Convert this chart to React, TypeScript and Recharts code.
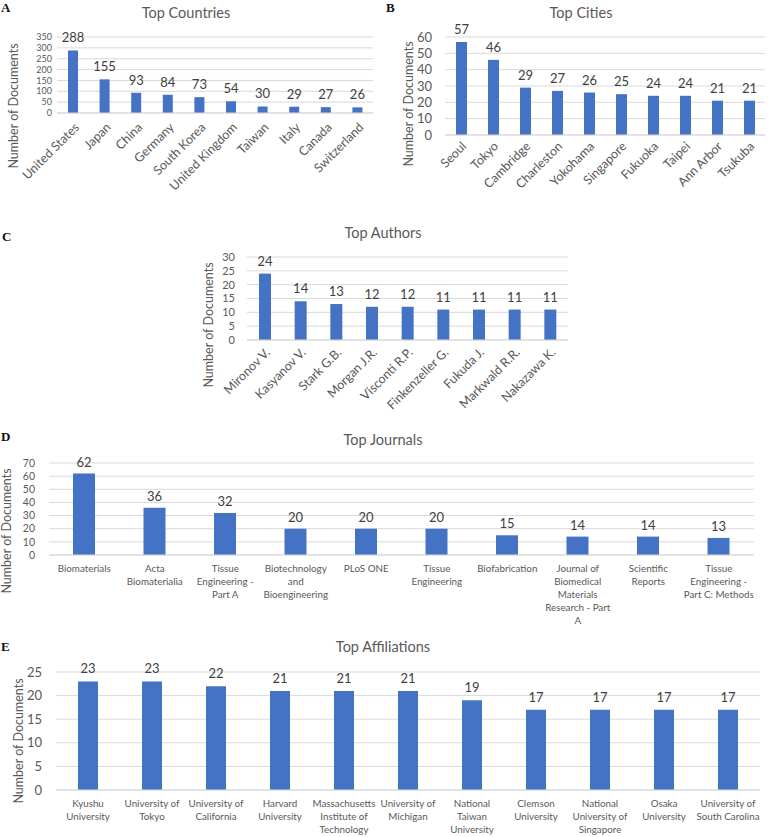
import React from "react";
import { Bar, BarChart, CartesianGrid, LabelList, XAxis, YAxis } from "recharts";

const countries = ["United States", "Japan", "China", "Germany", "South Korea", "United Kingdom", "Taiwan", "Italy", "Canada", "Switzerland"];
const countryDocs = [288, 155, 93, 84, 73, 54, 30, 29, 27, 26];
const countryTicks = [0, 50, 100, 150, 200, 250, 300, 350];

const cities = ["Seoul", "Tokyo", "Cambridge", "Charleston", "Yokohama", "Singapore", "Fukuoka", "Taipei", "Ann Arbor", "Tsukuba"];
const cityDocs = [57, 46, 29, 27, 26, 25, 24, 24, 21, 21];
const cityTicks = [0, 10, 20, 30, 40, 50, 60];

const authors = ["Mironov V.", "Kasyanov V.", "Stark G.B.", "Morgan J.R.", "Visconti R.P.", "Finkenzeller G.", "Fukuda J.", "Markwald R.R.", "Nakazawa K."];
const authorDocs = [24, 14, 13, 12, 12, 11, 11, 11, 11];
const authorTicks = [0, 5, 10, 15, 20, 25, 30];

const journals = [
  "Biomaterials",
  "Acta Biomaterialia",
  "Tissue Engineering - Part A",
  "Biotechnology and Bioengineering",
  "PLoS ONE",
  "Tissue Engineering",
  "Biofabrication",
  "Journal of Biomedical Materials Research - Part A",
  "Scientific Reports",
  "Tissue Engineering - Part C: Methods",
];
const journalDocs = [62, 36, 32, 20, 20, 20, 15, 14, 14, 13];
const journalTicks = [0, 10, 20, 30, 40, 50, 60, 70];
const journalLabels = [
  ["Biomaterials"],
  ["Acta", "Biomaterialia"],
  ["Tissue", "Engineering -", "Part A"],
  ["Biotechnology", "and", "Bioengineering"],
  ["PLoS ONE"],
  ["Tissue", "Engineering"],
  ["Biofabrication"],
  ["Journal of", "Biomedical", "Materials", "Research - Part", "A"],
  ["Scientific", "Reports"],
  ["Tissue", "Engineering -", "Part C: Methods"],
];

const affiliations = [
  "Kyushu University",
  "University of Tokyo",
  "University of California",
  "Harvard University",
  "Massachusetts Institute of Technology",
  "University of Michigan",
  "National Taiwan University",
  "Clemson University",
  "National University of Singapore",
  "Osaka University",
  "University of South Carolina",
];
const affiliationDocs = [23, 23, 22, 21, 21, 21, 19, 17, 17, 17, 17];
const affiliationTicks = [0, 5, 10, 15, 20, 25];
const affiliationLabels = [
  ["Kyushu", "University"],
  ["University of", "Tokyo"],
  ["University of", "California"],
  ["Harvard", "University"],
  ["Massachusetts", "Institute of", "Technology"],
  ["University of", "Michigan"],
  ["National", "Taiwan", "University"],
  ["Clemson", "University"],
  ["National", "University of", "Singapore"],
  ["Osaka", "University"],
  ["University of", "South Carolina"],
];

const BLUE = "#4472C4";
const GRID = "#d9d9d9";
const TICK = "#595959";
const VALUE = "#404040";

function SlantTick(props: any) {
  const { x, y, payload, offX, offY, size } = props;
  return (
    <g transform={`translate(${x + offX},${y + offY})`}>
      <text textAnchor="end" transform="rotate(-45)" dy="0.35em" fill={TICK} fontSize={size}>
        {payload.value}
      </text>
    </g>
  );
}

function WrapTick(props: any) {
  const { x, y, index, payload, lines, first, lineHeight, size } = props;
  const rows: string[] = lines[index] ?? [payload.value];
  return (
    <text x={x} y={y + first} textAnchor="middle" fill={TICK} fontSize={size}>
      {rows.map((r, i) => (
        <tspan key={i} x={x} dy={i === 0 ? 0 : lineHeight}>
          {r}
        </tspan>
      ))}
    </text>
  );
}

type PanelProps = {
  names: string[];
  values: number[];
  ticks: number[];
  left: number;
  top: number;
  width: number;
  height: number;
  margin: { top: number; right: number; bottom: number; left: number };
  xHeight: number;
  barSize: number;
  tickGap: number;
  tickSize: number;
  valueSize: number;
  valueOffset: number;
  titleAt: [number, number];
  tick: React.ReactElement;
};

function Panel(p: PanelProps) {
  const data = p.names.map((name, i) => ({ name, docs: p.values[i] }));
  const [tx, ty] = p.titleAt;
  return (
    <div style={{ position: "absolute", left: p.left, top: p.top }}>
      <BarChart width={p.width} height={p.height} data={data} margin={p.margin}>
        <CartesianGrid stroke={GRID} vertical={false} />
        <XAxis
          dataKey="name"
          interval={0}
          height={p.xHeight}
          tickLine={false}
          tickSize={0}
          tickMargin={0}
          axisLine={{ stroke: GRID }}
          tick={p.tick}
        />
        <YAxis
          width={40}
          domain={[p.ticks[0], p.ticks[p.ticks.length - 1]]}
          ticks={p.ticks}
          interval={0}
          axisLine={false}
          tickLine={false}
          tickSize={0}
          tickMargin={p.tickGap}
          tick={{ fill: TICK, fontSize: p.tickSize }}
          label={{
            content: () => (
              <text
                x={tx}
                y={ty}
                transform={`rotate(-90 ${tx} ${ty})`}
                textAnchor="middle"
                dominantBaseline="central"
                fill={TICK}
                fontSize={12.5}
              >
                Number of Documents
              </text>
            ),
          }}
        />
        <Bar dataKey="docs" fill={BLUE} barSize={p.barSize} isAnimationActive={false}>
          <LabelList dataKey="docs" position="top" offset={p.valueOffset} fill={VALUE} fontSize={p.valueSize} />
        </Bar>
      </BarChart>
    </div>
  );
}

function Title({ text, cx, cy }: { text: string; cx: number; cy: number }) {
  return (
    <div
      style={{
        position: "absolute",
        left: cx - 150,
        top: cy - 10,
        width: 300,
        lineHeight: "20px",
        textAlign: "center",
        fontSize: 14.5,
        color: TICK,
      }}
    >
      {text}
    </div>
  );
}

function Letter({ text, x, y }: { text: string; x: number; y: number }) {
  return (
    <div
      style={{
        position: "absolute",
        left: x,
        top: y - 8,
        lineHeight: "16px",
        fontFamily: "'Liberation Serif', serif",
        fontWeight: 700,
        fontSize: 13,
        color: "#111",
      }}
    >
      {text}
    </div>
  );
}

export default function App() {
  return (
    <div
      style={{
        position: "absolute",
        left: 0,
        top: 0,
        width: 770,
        height: 837,
        overflow: "hidden",
        background: "#fff",
        fontFamily: "Lato, sans-serif",
      }}
    >
      <Panel
        names={countries}
        values={countryDocs}
        ticks={countryTicks}
        left={0}
        top={0}
        width={385}
        height={200}
        margin={{ top: 37, right: 12, left: 17, bottom: 7 }}
        xHeight={80}
        barSize={10}
        tickGap={5}
        tickSize={9}
        valueSize={13}
        valueOffset={8}
        titleAt={[13, 106]}
        tick={<SlantTick offX={4} offY={12} size={12.5} />}
      />
      <Panel
        names={cities}
        values={cityDocs}
        ticks={cityTicks}
        left={385}
        top={0}
        width={385}
        height={200}
        margin={{ top: 37, right: 5, left: 20, bottom: 5 }}
        xHeight={60}
        barSize={11}
        tickGap={13}
        tickSize={13}
        valueSize={13}
        valueOffset={8}
        titleAt={[23, 104]}
        tick={<SlantTick offX={3} offY={9} size={12.5} />}
      />
      <Panel
        names={authors}
        values={authorDocs}
        ticks={authorTicks}
        left={150}
        top={200}
        width={470}
        height={215}
        margin={{ top: 57, right: 52, left: 57, bottom: 5 }}
        xHeight={70}
        barSize={12}
        tickGap={12}
        tickSize={11}
        valueSize={13}
        valueOffset={8}
        titleAt={[58, 125]}
        tick={<SlantTick offX={3} offY={10} size={12.5} />}
      />
      <Panel
        names={journals}
        values={journalDocs}
        ticks={journalTicks}
        left={0}
        top={430}
        width={770}
        height={200}
        margin={{ top: 33, right: 16, left: 9, bottom: 5 }}
        xHeight={70}
        barSize={22}
        tickGap={14}
        tickSize={10.5}
        valueSize={13}
        valueOffset={7}
        titleAt={[6, 101]}
        tick={<WrapTick lines={journalLabels} first={16.5} lineHeight={13} size={9.8} />}
      />
      <Panel
        names={affiliations}
        values={affiliationDocs}
        ticks={affiliationTicks}
        left={0}
        top={640}
        width={770}
        height={197}
        margin={{ top: 32, right: 10, left: 16, bottom: 2 }}
        xHeight={45}
        barSize={20}
        tickGap={14}
        tickSize={13}
        valueSize={13}
        valueOffset={8}
        titleAt={[18, 101]}
        tick={<WrapTick lines={affiliationLabels} first={17.4} lineHeight={13} size={9.8} />}
      />
      <Title text="Top Countries" cx={186} cy={13} />
      <Title text="Top Cities" cx={581} cy={13} />
      <Title text="Top Authors" cx={383} cy={233} />
      <Title text="Top Journals" cx={383} cy={440} />
      <Title text="Top Affiliations" cx={383} cy={647} />
      <Letter text="A" x={1} y={8} />
      <Letter text="B" x={386} y={8} />
      <Letter text="C" x={2} y={237} />
      <Letter text="D" x={1} y={437} />
      <Letter text="E" x={1} y={647} />
    </div>
  );
}
